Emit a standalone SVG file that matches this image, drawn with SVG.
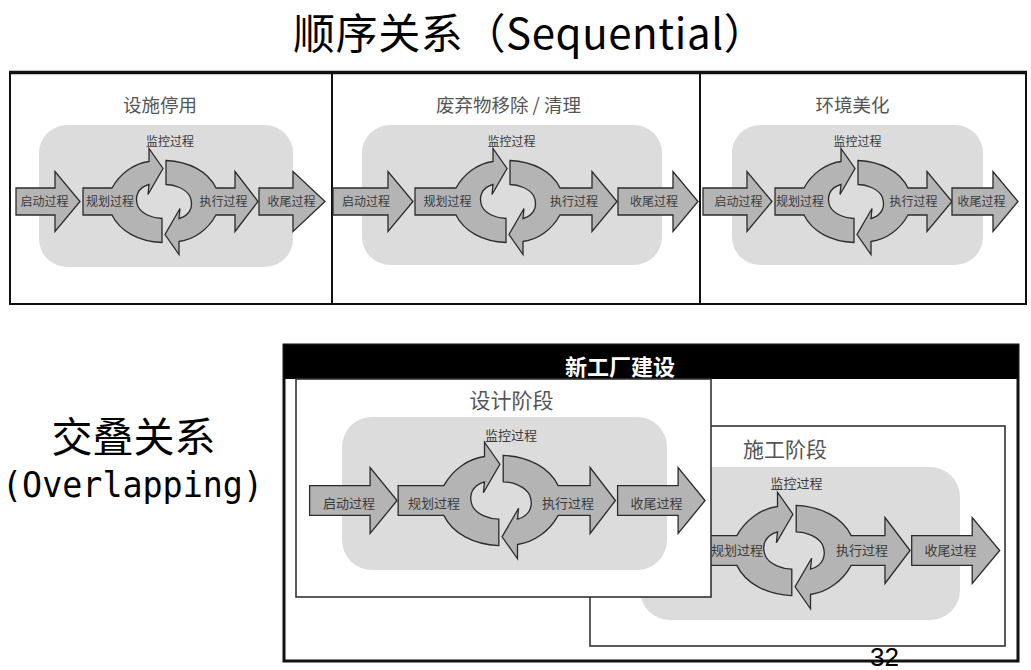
<svg xmlns="http://www.w3.org/2000/svg" width="1031" height="670" viewBox="0 0 1031 670">
<style>
.arr{fill:#b4b4b4;stroke:#2b2b2b;stroke-width:1.3;vector-effect:non-scaling-stroke;stroke-linejoin:miter}
.bg{fill:#dcdcdc}
.lbl{font-family:"Noto Sans CJK SC",sans-serif;font-size:12px;fill:#3a3a3a;text-anchor:middle}
.lbl2{font-family:"Noto Sans CJK SC",sans-serif;font-size:13px;fill:#3a3a3a;text-anchor:middle}
.ptitle{font-family:"Noto Sans CJK SC",sans-serif;font-size:18.5px;fill:#555;text-anchor:middle}
.ptitle2{font-family:"Noto Sans CJK SC",sans-serif;font-size:21px;fill:#555;text-anchor:middle}
.big{font-family:"Noto Sans CJK SC",sans-serif;fill:#000}
.frame{fill:#fff;stroke:#333;stroke-width:1.6}
</style>
<rect width="1031" height="670" fill="#fff"/>

<!-- Title -->
<text class="big" x="293" y="49" font-size="42" letter-spacing="0.6">顺序关系（Sequential）</text>

<!-- Sequential box -->
<g id="sequential-box">
<rect x="10" y="73" width="1016" height="231" fill="#fff" stroke="#111" stroke-width="2"/>
<line x1="9" y1="72.5" x2="1027" y2="72.5" stroke="#111" stroke-width="3.5"/>
<line x1="332" y1="73" x2="332" y2="304" stroke="#111" stroke-width="2"/>
<line x1="700" y1="73" x2="700" y2="304" stroke="#111" stroke-width="2"/>
</g>

<!-- Panel 1 -->
<g id="panel-decommission">
<text class="ptitle" x="160" y="112">设施停用</text>
<rect class="bg" x="39" y="125" width="254" height="142" rx="28"/>
<g transform="translate(164,201.5)">
<path id="p1-initiate" class="arr" d="M -148,-13.5 L -109,-13.5 L -109,-30 L -84,0 L -109,30 L -109,13.5 L -148,13.5 Z"/>
<path id="p1-plan" class="arr" d="M -81,-13.5 L -52,-13.5 C -44,-28 -30,-38 -15,-40 L -15,-53 L -1,-33 L -16,-7 L -15,-17 C -26,-14 -30,-5 -26,5 C -22,13 -10,17 -2,17 L -2,41 C -25,40 -44,30 -52,13.5 L -81,13.5 Z"/>
<path id="p1-execute" class="arr" d="M 2,-41 C 25,-40 44,-30 52,-13.5 L 71,-13.5 L 71,-30 L 94,0 L 71,30 L 71,13.5 L 52,13.5 C 44,28 30,38 15,40 L 15,53 L 1,33 L 16,7 L 15,17 C 26,14 30,5 26,-5 C 22,-13 10,-17 2,-17 Z"/>
<path id="p1-close" class="arr" d="M 95,-13.5 L 129,-13.5 L 129,-30 L 161,0 L 129,30 L 129,13.5 L 95,13.5 Z"/>
</g>
<text class="lbl" x="44.5" y="206">启动过程</text>
<text class="lbl" x="110" y="206">规划过程</text>
<text class="lbl" x="170" y="146">监控过程</text>
<text class="lbl" x="223.5" y="206">执行过程</text>
<text class="lbl" x="291.5" y="206">收尾过程</text>
</g>

<!-- Panel 2 -->
<g id="panel-waste-removal">
<text class="ptitle" x="508.5" y="112">废弃物移除 / 清理</text>
<rect class="bg" x="362" y="125" width="300" height="140" rx="28"/>
<g transform="translate(508,201.5)">
<path id="p2-initiate" class="arr" d="M -175,-13.5 L -120,-13.5 L -120,-30 L -95,0 L -120,30 L -120,13.5 L -175,13.5 Z"/>
<path id="p2-plan" class="arr" d="M -93,-13.5 L -52,-13.5 C -44,-28 -30,-38 -15,-40 L -15,-53 L -1,-33 L -16,-7 L -15,-17 C -26,-14 -30,-5 -26,5 C -22,13 -10,17 -2,17 L -2,41 C -25,40 -44,30 -52,13.5 L -93,13.5 Z"/>
<path id="p2-execute" class="arr" d="M 2,-41 C 25,-40 44,-30 52,-13.5 L 84,-13.5 L 84,-30 L 109,0 L 84,30 L 84,13.5 L 52,13.5 C 44,28 30,38 15,40 L 15,53 L 1,33 L 16,7 L 15,17 C 26,14 30,5 26,-5 C 22,-13 10,-17 2,-17 Z"/>
<path id="p2-close" class="arr" d="M 110,-13.5 L 165,-13.5 L 165,-30 L 190,0 L 165,30 L 165,13.5 L 110,13.5 Z"/>
</g>
<text class="lbl" x="366" y="206">启动过程</text>
<text class="lbl" x="447.5" y="206">规划过程</text>
<text class="lbl" x="511.5" y="146">监控过程</text>
<text class="lbl" x="574" y="206">执行过程</text>
<text class="lbl" x="654" y="206">收尾过程</text>
</g>

<!-- Panel 3 -->
<g id="panel-landscaping">
<text class="ptitle" x="852.5" y="112">环境美化</text>
<rect class="bg" x="732" y="125" width="251" height="140" rx="28"/>
<g transform="translate(856,201.5)">
<path id="p3-initiate" class="arr" d="M -153,-13.5 L -109,-13.5 L -109,-30 L -84,0 L -109,30 L -109,13.5 L -153,13.5 Z"/>
<path id="p3-plan" class="arr" d="M -81,-13.5 L -52,-13.5 C -44,-28 -30,-38 -15,-40 L -15,-53 L -1,-33 L -16,-7 L -15,-17 C -26,-14 -30,-5 -26,5 C -22,13 -10,17 -2,17 L -2,41 C -25,40 -44,30 -52,13.5 L -81,13.5 Z"/>
<path id="p3-execute" class="arr" d="M 2,-41 C 25,-40 44,-30 52,-13.5 L 71,-13.5 L 71,-30 L 96,0 L 71,30 L 71,13.5 L 52,13.5 C 44,28 30,38 15,40 L 15,53 L 1,33 L 16,7 L 15,17 C 26,14 30,5 26,-5 C 22,-13 10,-17 2,-17 Z"/>
<path id="p3-close" class="arr" d="M 96,-13.5 L 137,-13.5 L 137,-30 L 162,0 L 137,30 L 137,13.5 L 96,13.5 Z"/>
</g>
<text class="lbl" x="738.5" y="206">启动过程</text>
<text class="lbl" x="800" y="206">规划过程</text>
<text class="lbl" x="857.5" y="146">监控过程</text>
<text class="lbl" x="913.5" y="206">执行过程</text>
<text class="lbl" x="981.5" y="206">收尾过程</text>
</g>

<!-- Overlapping label -->
<text class="big" x="133.5" y="452" font-size="41" text-anchor="middle">交叠关系</text>
<text x="2" y="497" font-family="DejaVu Sans Mono, monospace" font-size="36" fill="#000" textLength="261" lengthAdjust="spacingAndGlyphs">(Overlapping)</text>

<!-- New plant -->
<g id="new-plant">
<rect x="284" y="345" width="734" height="316" fill="#fff" stroke="#111" stroke-width="3"/>
<rect x="284" y="345" width="734" height="34" fill="#000"/>
<text x="620" y="375" font-family="Noto Sans CJK SC, sans-serif" font-size="22" font-weight="bold" fill="#fff" text-anchor="middle">新工厂建设</text>
</g>

<!-- Construction phase -->
<g id="construction-phase">
<rect class="frame" x="590" y="426" width="415" height="220"/>
<text class="ptitle2" x="785" y="457">施工阶段</text>
<rect class="bg" x="640" y="467" width="320" height="153" rx="30"/>
<g transform="translate(794,550.5) scale(1.1)">
<path id="c-plan" class="arr" d="M -81,-13.5 L -52,-13.5 C -44,-28 -30,-38 -15,-40 L -15,-53 L -1,-33 L -16,-7 L -15,-17 C -26,-14 -30,-5 -26,5 C -22,13 -10,17 -2,17 L -2,41 C -25,40 -44,30 -52,13.5 L -81,13.5 Z"/>
<path id="c-execute" class="arr" d="M 2,-41 C 25,-40 44,-30 52,-13.5 L 82.7,-13.5 L 82.7,-30 L 105.5,0 L 82.7,30 L 82.7,13.5 L 52,13.5 C 44,28 30,38 15,40 L 15,53 L 1,33 L 16,7 L 15,17 C 26,14 30,5 26,-5 C 22,-13 10,-17 2,-17 Z"/>
<path id="c-close" class="arr" d="M 107,-13.5 L 162,-13.5 L 162,-30 L 187,0 L 162,30 L 162,13.5 L 107,13.5 Z"/>
</g>
<text class="lbl2" x="796.5" y="487.5">监控过程</text>
<text class="lbl2" x="737" y="555">规划过程</text>
<text class="lbl2" x="862" y="555">执行过程</text>
<text class="lbl2" x="950.5" y="555">收尾过程</text>
</g>

<!-- Design phase -->
<g id="design-phase">
<rect class="frame" x="296" y="379" width="415" height="218"/>
<text class="ptitle2" x="511.5" y="408">设计阶段</text>
<rect class="bg" x="342" y="417" width="325" height="153" rx="30"/>
<g transform="translate(501,500.5) scale(1.1)">
<path id="d-initiate" class="arr" d="M -174,-13.5 L -119,-13.5 L -119,-30 L -94.5,0 L -119,30 L -119,13.5 L -174,13.5 Z"/>
<path id="d-plan" class="arr" d="M -93.5,-13.5 L -52,-13.5 C -44,-28 -30,-38 -15,-40 L -15,-53 L -1,-33 L -16,-7 L -15,-17 C -26,-14 -30,-5 -26,5 C -22,13 -10,17 -2,17 L -2,41 C -25,40 -44,30 -52,13.5 L -93.5,13.5 Z"/>
<path id="d-execute" class="arr" d="M 2,-41 C 25,-40 44,-30 52,-13.5 L 81,-13.5 L 81,-30 L 104,0 L 81,30 L 81,13.5 L 52,13.5 C 44,28 30,38 15,40 L 15,53 L 1,33 L 16,7 L 15,17 C 26,14 30,5 26,-5 C 22,-13 10,-17 2,-17 Z"/>
<path id="d-close" class="arr" d="M 106,-13.5 L 161,-13.5 L 161,-30 L 185.5,0 L 161,30 L 161,13.5 L 106,13.5 Z"/>
</g>
<text class="lbl2" x="349" y="507.5">启动过程</text>
<text class="lbl2" x="434" y="507.5">规划过程</text>
<text class="lbl2" x="511" y="439.5">监控过程</text>
<text class="lbl2" x="568" y="507.5">执行过程</text>
<text class="lbl2" x="656.5" y="507.5">收尾过程</text>
</g>

<g id="connectors"/>

<text x="870" y="666" font-family="Liberation Sans, Arial, sans-serif" font-size="26" fill="#000">32</text>
</svg>
